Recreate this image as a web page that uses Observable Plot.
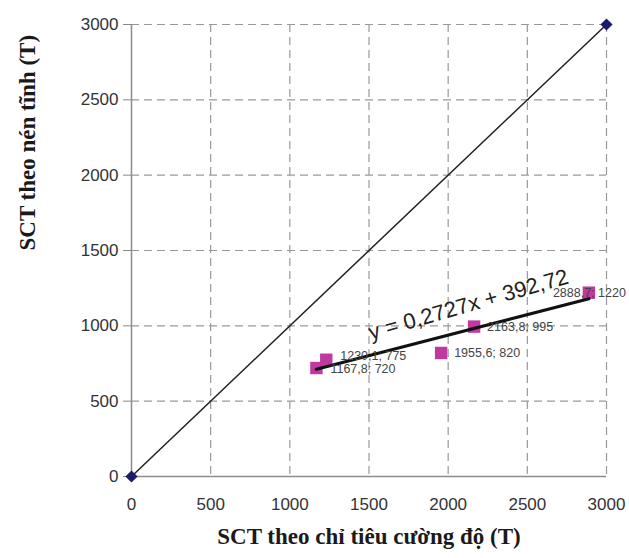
<!DOCTYPE html>
<html><head><meta charset="utf-8">
<script src="https://cdn.jsdelivr.net/npm/d3@7"></script>
<script src="https://cdn.jsdelivr.net/npm/@observablehq/plot@0.6"></script>
<style>body{margin:0;background:#fff}</style>
</head><body><div id="chart"></div>
<script>
const xTicks = [0, 500, 1000, 1500, 2000, 2500, 3000];
const yTicks = [0, 500, 1000, 1500, 2000, 2500, 3000];
const refX = [0, 3000];
const refY = [0, 3000];
const ptX = [1167.8, 1230.1, 1955.6, 2163.8, 2888.7];
const ptY = [720, 775, 820, 995, 1220];
const ptLabels = ["1167,8; 720", "1230,1; 775", "1955,6; 820", "2163,8; 995", "2888,7; 1220"];
const equation = "y = 0,2727x + 392,72";
const xLabel = "SCT theo chỉ tiêu cường độ (T)";
const yLabel = "SCT theo nén tĩnh (T)";

const refData = refX.map((x, i) => ({x, y: refY[i]}));
const pts = ptX.map((x, i) => ({x, y: ptY[i], label: ptLabels[i]}));
const labelOffsets = [[14, 1], [14, -4], [13, 0], [13, 0], [-36, 0]];
const ptsL = pts.map((d, i) => ({...d, dx: labelOffsets[i][0], dy: labelOffsets[i][1]}));

const plot = Plot.plot({
  width: 629, height: 558,
  marginLeft: 131, marginRight: 23, marginTop: 24, marginBottom: 82,
  x: {domain: [0, 3000]},
  y: {domain: [0, 3000]},
  style: {background: "#fff"},
  marks: [
    Plot.gridX(xTicks.slice(1), {stroke: "#999", strokeOpacity: 1, strokeDasharray: "8,5", strokeWidth: 1.2}),
    Plot.gridY(yTicks.slice(1), {stroke: "#999", strokeOpacity: 1, strokeDasharray: "8,5", strokeWidth: 1.2}),
    Plot.axisY(yTicks, {tickSize: 8, tickPadding: 5, tickFormat: d => String(d), fontSize: 17, fontFamily: "Liberation Sans, Arial", stroke: "#888", fill: "#333", label: null}),
    Plot.axisX(xTicks, {tickSize: 0, tickPadding: 21, tickFormat: d => String(d), fontSize: 17, fontFamily: "Liberation Sans, Arial", fill: "#333", label: null}),
    Plot.ruleX([0], {stroke: "#8c8c8c", strokeWidth: 1.5}),
    Plot.ruleY([0], {stroke: "#8c8c8c", strokeWidth: 1.5}),
    Plot.line(refData, {x: "x", y: "y", stroke: "#222", strokeWidth: 1.5}),
    Plot.dot(refData, {x: "x", y: "y", symbol: "diamond2", r: 5.5, fill: "#1c1c6b", stroke: "none"}),
    Plot.dot(pts, {x: "x", y: "y", symbol: "square", r: 7, fill: "#c0399e", stroke: "none"}),
    Plot.linearRegressionY(pts, {x: "x", y: "y", stroke: "#111", strokeWidth: 3.2, ci: 0}),
    ...ptsL.map(d => Plot.text([d], {x: "x", y: "y", text: "label", textAnchor: "start", dx: d.dx, dy: d.dy, fontSize: 12.5, fontFamily: "Liberation Sans, Arial", fill: "#444"})),
    Plot.text([equation], {x: 2128, y: 1140, text: d => d, rotate: -16, fontSize: 22, fontFamily: "Liberation Sans, Arial", fill: "#222"}),
    Plot.text([xLabel], {frameAnchor: "bottom", dy: 67, dx: 0, text: d => d, fontSize: 23, fontWeight: "bold", fontFamily: "Liberation Serif, Times New Roman", fill: "#1a1a1a"}),
    Plot.text([yLabel], {frameAnchor: "left", dx: -104, rotate: -90, text: d => d, fontSize: 23, fontWeight: "bold", fontFamily: "Liberation Serif, Times New Roman", fill: "#1a1a1a"})
  ]
});
document.getElementById("chart").appendChild(plot);
</script>
</body></html>
